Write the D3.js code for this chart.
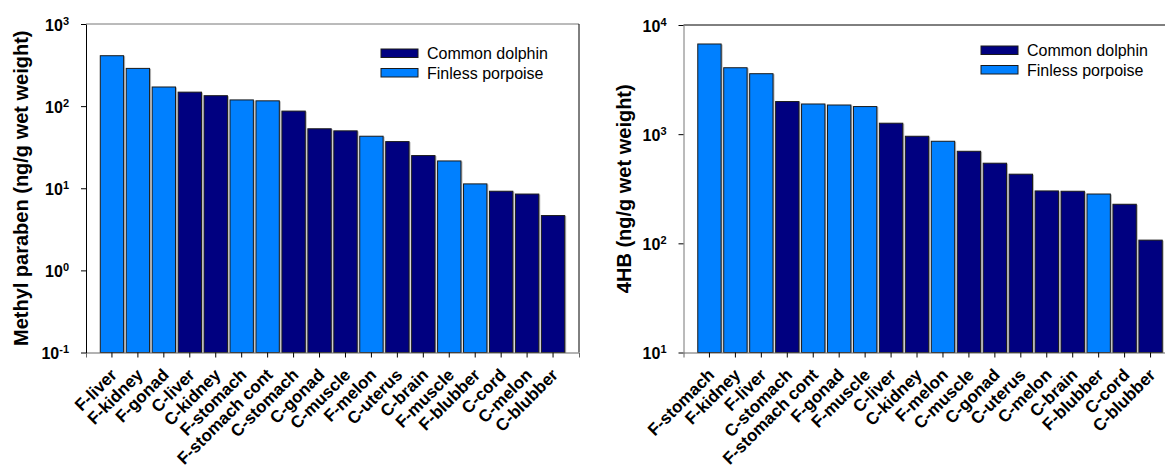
<!DOCTYPE html>
<html>
<head>
<meta charset="utf-8">
<script src="https://cdn.jsdelivr.net/npm/d3@7"></script>
<style>
  body { margin: 0; background: #fff; }
  text { font-family: "Liberation Sans", Arial, sans-serif; }
</style>
</head>
<body>
<div id="chart"></div>
<script>
var W = 1165, H = 467;

// methyl paraben panel
var mpCats = ["F-liver", "F-kidney", "F-gonad", "C-liver", "C-kidney", "F-stomach", "F-stomach cont",
  "C-stomach", "C-gonad", "C-muscle", "F-melon", "C-uterus", "C-brain", "F-muscle", "F-blubber",
  "C-cord", "C-melon", "C-blubber"];
var mpVals = [411, 288, 171, 148, 134, 119, 116, 87, 53, 50, 43, 37, 25, 21.5, 11.3, 9.2, 8.5, 4.65];
var mpTicks = [0.1, 1, 10, 100, 1000];

// 4HB panel
var hbCats = ["F-stomach", "F-kidney", "F-liver", "C-stomach", "F-stomach cont", "F-gonad", "F-muscle",
  "C-liver", "C-kidney", "F-melon", "C-muscle", "C-gonad", "C-uterus", "C-melon", "C-brain",
  "F-blubber", "C-cord", "C-blubber"];
var hbVals = [6700, 4060, 3580, 1990, 1890, 1850, 1790, 1260, 957, 861, 697, 542, 430, 302, 300, 283, 228, 107];
var hbTicks = [10, 100, 1000, 10000];

var species = ["Common dolphin", "Finless porpoise"];
var colors = { "C": "#000080", "F": "#0080ff" };

var svg = d3.select("#chart").append("svg")
    .attr("width", W)
    .attr("height", H);

function drawPanel(opt) {
    var g = svg.append("g");

    var x = d3.scaleBand()
        .domain(opt.cats)
        .range(opt.xr)
        .paddingInner(0.1)
        .paddingOuter(0.55);

    var y = d3.scaleLog()
        .domain([opt.ticks[0], opt.ticks[opt.ticks.length - 1]])
        .range(opt.yr);

    var base = opt.yr[0];

    //gray edge on the right of each bar
    g.selectAll(".shadow")
        .data(opt.vals)
        .enter().append("rect")
        .attr("x", function(d, i) { return x(opt.cats[i]) + 1.5; })
        .attr("y", function(d) { return y(d) + 0.5; })
        .attr("width", x.bandwidth())
        .attr("height", function(d) { return base - y(d); })
        .attr("fill", "#b8b8b8");

    g.selectAll(".bar")
        .data(opt.vals)
        .enter().append("rect")
        .attr("x", function(d, i) { return x(opt.cats[i]); })
        .attr("y", function(d) { return y(d); })
        .attr("width", x.bandwidth())
        .attr("height", function(d) { return base - y(d); })
        .attr("fill", function(d, i) { return colors[opt.cats[i][0]]; })
        .attr("stroke", "#1a1a1a")
        .attr("stroke-width", 1);

    // frame lines
    g.append("line")
        .attr("x1", opt.xr[0]).attr("x2", opt.xr[1])
        .attr("y1", opt.yr[1]).attr("y2", opt.yr[1])
        .attr("stroke", opt.topColor);
    if (opt.rightBorder) {
        g.append("line")
            .attr("x1", opt.xr[1]).attr("x2", opt.xr[1])
            .attr("y1", opt.yr[1]).attr("y2", opt.yr[0])
            .attr("stroke", "#000");
    }

    var xAxis = g.append("g")
        .attr("transform", "translate(0," + base + ")")
        .call(d3.axisBottom(x).tickSize(5).tickSizeOuter(5));
    xAxis.select(".domain").attr("stroke", "#666");
    xAxis.selectAll(".tick line").attr("stroke", "#000");
    xAxis.selectAll(".tick text")
        .attr("x", 0).attr("y", 0).attr("dy", null)
        .attr("transform", "translate(6,23.5) rotate(-45)")
        .attr("text-anchor", "end")
        .attr("fill", "#000")
        .style("font-size", "17px")
        .style("font-weight", "bold");

    var yAxis = g.append("g")
        .attr("transform", "translate(" + opt.xr[0] + ",0)")
        .call(d3.axisLeft(y).tickValues(opt.ticks).tickSize(5).tickSizeOuter(0).tickPadding(12)
            .tickFormat(function() { return "10"; }));
    yAxis.select(".domain").attr("stroke", opt.leftColor);
    yAxis.selectAll(".tick line").attr("stroke", "#000");
    yAxis.selectAll(".tick text")
        .attr("fill", "#000")
        .attr("dy", "0.4em")
        .style("font-size", "16px")
        .style("font-weight", "bold")
        .each(function(d) {
            d3.select(this).append("tspan")
                .attr("dy", "-0.55em")
                .style("font-size", "11px")
                .text(Math.round(Math.log10(d)));
        });

    g.append("text")
        .attr("transform", "translate(" + opt.labelX + "," + ((opt.yr[0] + opt.yr[1]) / 2) + ") rotate(-90)")
        .attr("text-anchor", "middle")
        .style("font-size", "20px")
        .style("font-weight", "bold")
        .text(opt.label);

    // legend
    var lg = g.append("g")
        .attr("transform", "translate(" + opt.legend[0] + "," + opt.legend[1] + ")");
    var items = lg.selectAll(".item")
        .data(species)
        .enter().append("g")
        .attr("transform", function(d, i) { return "translate(0," + (i * 19.5) + ")"; });
    items.append("rect")
        .attr("width", 37)
        .attr("height", 8.5)
        .attr("fill", function(d) { return colors[d[0] == "C" ? "C" : "F"]; })
        .attr("stroke", "#1a1a1a");
    items.append("text")
        .attr("x", 46)
        .attr("y", 10)
        .style("font-size", "16px")
        .text(function(d) { return d; });
}

drawPanel({
    cats: mpCats, vals: mpVals, ticks: mpTicks,
    xr: [86, 579], yr: [352.5, 24],
    label: "Methyl paraben (ng/g wet weight)", labelX: 28,
    legend: [381, 49],
    topColor: "#777", leftColor: "#000", rightBorder: true
});

drawPanel({
    cats: hbCats, vals: hbVals, ticks: hbTicks,
    xr: [683.5, 1176.5], yr: [352.5, 25],
    label: "4HB (ng/g wet weight)", labelX: 631,
    legend: [981, 46],
    topColor: "#000", leftColor: "#777", rightBorder: false
});
</script>
</body>
</html>
